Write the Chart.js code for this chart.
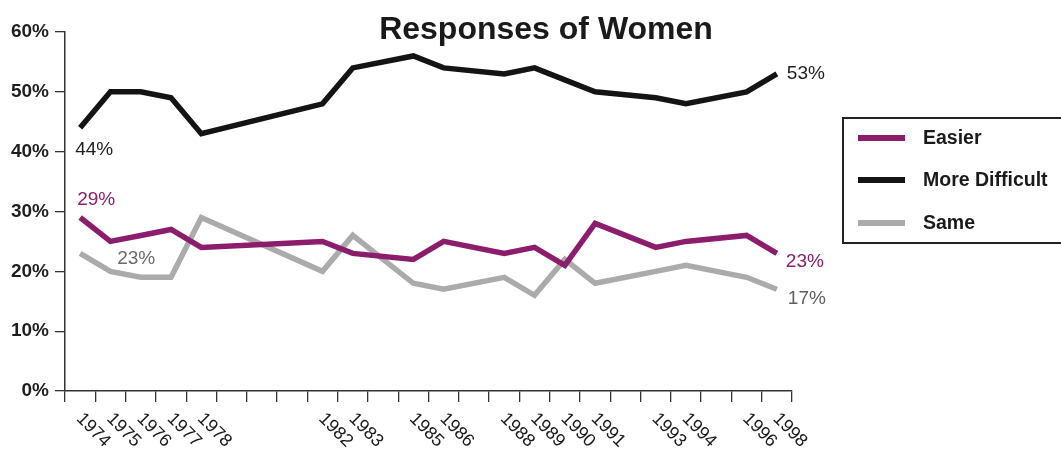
<!DOCTYPE html>
<html>
<head>
<meta charset="utf-8">
<script src="https://cdn.jsdelivr.net/npm/chart.js@4/dist/chart.umd.min.js"></script>
<style>
html,body{margin:0;padding:0;background:#fff;}
#wrap{width:1061px;height:449px;}
</style>
</head>
<body>
<div id="wrap"><canvas id="c" width="1061" height="449"></canvas></div>
<script>
const categories = ['1974','1975','1976','1977','1978','1979','1980','1981','1982','1983','1984','1985','1986','1987','1988','1989','1990','1991','1992','1993','1994','1995','1996','1998'];
const tickLabels = ['1974','1975','1976','1977','1978','','','','1982','1983','','1985','1986','','1988','1989','1990','1991','','1993','1994','','1996','1998'];
const easier        = [29,25,26,27,24,null,null,null,25,23,null,22,25,null,23,24,21,28,null,24,25,null,26,23];
const moreDifficult = [44,50,50,49,43,null,null,null,48,54,null,56,54,null,53,54,52,50,null,49,48,null,50,53];
const same          = [23,20,19,19,29,null,null,null,20,26,null,18,17,null,19,16,22,18,null,20,21,null,19,17];
const yTicks = [0,10,20,30,40,50,60];
const seriesNames = ['Easier','More Difficult','Same'];
const colors = ['#8c1d6d','#141414','#ababab'];
const endLabels = [
  {ds:0, idx:0, text:'29%', color:'#8c1d6d', dx:-3, dy:-18},
  {ds:1, idx:0, text:'44%', color:'#1e1e1e', dx:-5, dy:22},
  {ds:2, idx:0, text:'23%', color:'#6a6a6a', dx:37, dy:5},
  {ds:1, idx:23, text:'53%', color:'#1e1e1e', dx:10, dy:0},
  {ds:0, idx:23, text:'23%', color:'#8c1d6d', dx:9, dy:8},
  {ds:2, idx:23, text:'17%', color:'#5e5e5e', dx:11, dy:9}
];

const FONT = '"Liberation Sans", Arial, Helvetica, sans-serif';

const decor = {
  id: 'decor',
  afterDraw(chart) {
    const ctx = chart.ctx;
    const xs = chart.scales.x;
    ctx.save();
    // title
    ctx.fillStyle = '#1a1a1a';
    ctx.font = 'bold 32px ' + FONT;
    ctx.textAlign = 'center';
    ctx.textBaseline = 'alphabetic';
    ctx.fillText('Responses of Women', 546, 39);
    // rotated x labels
    ctx.font = '18px ' + FONT;
    ctx.fillStyle = '#1a1a1a';
    ctx.textAlign = 'left';
    ctx.textBaseline = 'middle';
    tickLabels.forEach((lab, i) => {
      if (!lab) return;
      const x = xs.getPixelForValue(i);
      ctx.save();
      ctx.translate(x - 1, 416);
      ctx.rotate(45 * Math.PI / 180);
      ctx.fillText(lab, 0, 0);
      ctx.restore();
    });
    // value labels
    ctx.font = '19px ' + FONT;
    ctx.textBaseline = 'middle';
    endLabels.forEach(l => {
      const pt = chart.getDatasetMeta(l.ds).data[l.idx];
      ctx.fillStyle = l.color;
      ctx.fillText(l.text, pt.x + l.dx, pt.y + l.dy);
    });
    // legend
    ctx.strokeStyle = '#222';
    ctx.lineWidth = 2;
    ctx.strokeRect(843, 118, 230, 125);
    ctx.font = 'bold 19.5px ' + FONT;
    const ly = [138, 180, 223];
    seriesNames.forEach((n, i) => {
      ctx.strokeStyle = colors[i];
      ctx.lineWidth = 6;
      ctx.beginPath();
      ctx.moveTo(858, ly[i]);
      ctx.lineTo(905, ly[i]);
      ctx.stroke();
      ctx.fillStyle = '#1a1a1a';
      ctx.fillText(n, 923, ly[i] + 1);
    });
    ctx.restore();
  }
};

const mk = (label, data, color) => ({
  label, data,
  borderColor: color, backgroundColor: color,
  borderWidth: 5.5, pointRadius: 0, tension: 0,
  spanGaps: true, borderJoinStyle: 'miter', borderCapStyle: 'butt', fill: false
});

new Chart(document.getElementById('c'), {
  type: 'line',
  data: {
    labels: categories,
    datasets: [
      mk(seriesNames[0], easier, colors[0]),
      mk(seriesNames[1], moreDifficult, colors[1]),
      mk(seriesNames[2], same, colors[2])
    ]
  },
  options: {
    responsive: false,
    animation: false,
    layout: { padding: { top: 32, right: 269, left: 0, bottom: 0 } },
    plugins: { legend: { display: false }, title: { display: false }, tooltip: { enabled: false } },
    scales: {
      x: {
        type: 'category',
        offset: true,
        grid: { drawOnChartArea: false, drawTicks: true, tickLength: 11, color: '#333', lineWidth: 1.3, offset: true },
        border: { color: '#333', width: 1.5 },
        ticks: { display: false },
        afterFit(s) { s.height = 58; }
      },
      y: {
        min: 0, max: 60,
        afterBuildTicks(s) { s.ticks = yTicks.map(v => ({ value: v })); },
        ticks: {
          callback: v => v + '%',
          font: { family: FONT, size: 19, weight: 'bold' },
          color: '#1e1e1e',
          padding: 6
        },
        grid: { drawOnChartArea: false, drawTicks: true, tickLength: 10, color: '#333', lineWidth: 1.3 },
        border: { color: '#333', width: 1.5 },
        afterFit(s) { s.width = 65; }
      }
    }
  },
  plugins: [decor]
});
</script>
</body>
</html>
